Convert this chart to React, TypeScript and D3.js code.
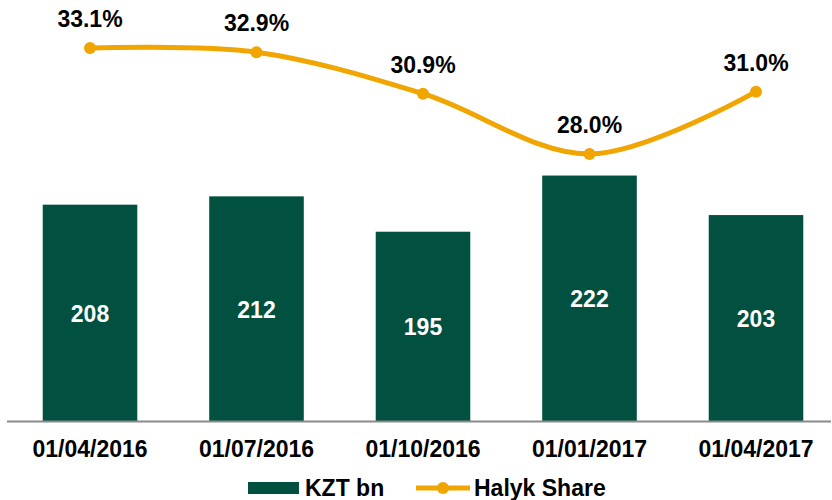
import { useEffect, useRef } from "react";
import * as d3 from "d3";

// chart data
const dates = ["01/04/2016", "01/07/2016", "01/10/2016", "01/01/2017", "01/04/2017"];
const kztBn = [208, 212, 195, 222, 203];
const halykShare = [33.1, 32.9, 30.9, 28.0, 31.0];

const W = 832;
const H = 500;
const barColor = "#02503F";
const lineColor = "#F0A500";
const font = "Arial, 'Liberation Sans', sans-serif";

export default function App() {
    const ref = useRef<SVGSVGElement>(null);

    useEffect(() => {
        const svg = d3.select(ref.current);
        svg.selectAll("*").remove();

        const baseY = 421;

        const x = d3.scaleBand<string>()
            .domain(dates)
            .range([6.75, 839.25])
            .paddingInner(0.432)
            .paddingOuter(0.216);

        // bars do not start from zero in the original
        const yBar = d3.scaleLinear().domain([104, 300]).range([baseY, 13.3]);
        const yLine = d3.scaleLinear().domain([28, 33.1]).range([154, 48]);

        const g = svg.append("g");

        // bars
        g.selectAll("rect.bar")
            .data(kztBn)
            .enter().append("rect")
            .attr("class", "bar")
            .attr("x", (d, i) => x(dates[i])!)
            .attr("width", x.bandwidth())
            .attr("y", (d) => yBar(d))
            .attr("height", (d) => baseY - yBar(d))
            .attr("fill", barColor);

        // bar labels
        g.selectAll("text.barlabel")
            .data(kztBn)
            .enter().append("text")
            .attr("class", "barlabel")
            .attr("x", (d, i) => x(dates[i])! + x.bandwidth() / 2)
            .attr("y", (d) => (yBar(d) + baseY) / 2 + 9)
            .attr("text-anchor", "middle")
            .attr("fill", "#fff")
            .attr("font-family", font)
            .attr("font-weight", "bold")
            .attr("font-size", 23)
            .text((d) => d);

        // axis line
        g.append("line")
            .attr("x1", 7).attr("x2", 831)
            .attr("y1", baseY + 0.5).attr("y2", baseY + 0.5)
            .attr("stroke", "#8a8a8a")
            .attr("stroke-width", 2);

        // category labels
        g.selectAll("text.cat")
            .data(dates)
            .enter().append("text")
            .attr("class", "cat")
            .attr("x", (d) => x(d)! + x.bandwidth() / 2)
            .attr("y", 457)
            .attr("text-anchor", "middle")
            .attr("fill", "#000")
            .attr("font-family", font)
            .attr("font-weight", "bold")
            .attr("font-size", 23)
            .text((d) => d);

        // share line
        const cx = (i: number) => x(dates[i])! + x.bandwidth() / 2;
        g.append("path")
            .datum(halykShare)
            .attr("fill", "none")
            .attr("stroke", lineColor)
            .attr("stroke-width", 5)
            .attr("d", d3.line<number>()
                .x((d, i) => cx(i))
                .y((d) => yLine(d))
                .curve(d3.curveCatmullRom.alpha(0.5)));

        g.selectAll("circle.pt")
            .data(halykShare)
            .enter().append("circle")
            .attr("class", "pt")
            .attr("cx", (d, i) => cx(i))
            .attr("cy", (d) => yLine(d))
            .attr("r", 6)
            .attr("fill", lineColor);

        g.selectAll("text.pct")
            .data(halykShare)
            .enter().append("text")
            .attr("class", "pct")
            .attr("x", (d, i) => cx(i))
            .attr("y", (d) => yLine(d) - 21)
            .attr("text-anchor", "middle")
            .attr("fill", "#000")
            .attr("font-family", font)
            .attr("font-weight", "bold")
            .attr("font-size", 23)
            .text((d) => d.toFixed(1) + "%");

        // legend
        const leg = svg.append("g");
        leg.append("rect")
            .attr("x", 248).attr("y", 482)
            .attr("width", 51).attr("height", 12)
            .attr("fill", barColor);
        leg.append("text")
            .attr("x", 305).attr("y", 496)
            .attr("font-family", font)
            .attr("font-weight", "bold")
            .attr("font-size", 23)
            .text("KZT bn");
        leg.append("line")
            .attr("x1", 416).attr("x2", 470)
            .attr("y1", 488).attr("y2", 488)
            .attr("stroke", lineColor)
            .attr("stroke-width", 5);
        leg.append("circle")
            .attr("cx", 443).attr("cy", 488)
            .attr("r", 6)
            .attr("fill", lineColor);
        leg.append("text")
            .attr("x", 474).attr("y", 496)
            .attr("font-family", font)
            .attr("font-weight", "bold")
            .attr("font-size", 23)
            .text("Halyk Share");
    }, []);

    return (
        <svg ref={ref} width={W} height={H}
            style={{ position: "absolute", left: 0, top: 0, background: "#fff" }}></svg>
    );
}
